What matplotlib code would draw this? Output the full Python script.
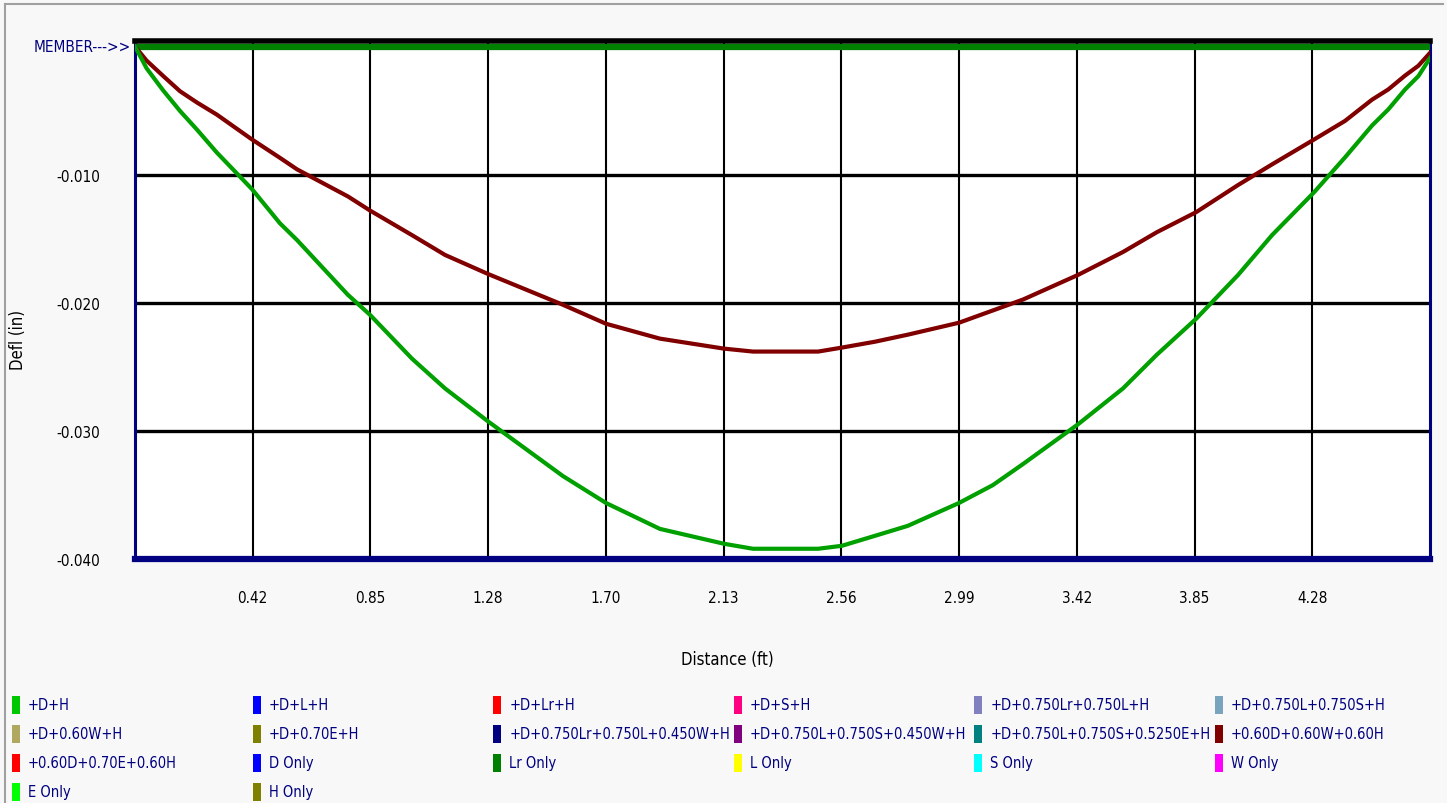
import matplotlib
matplotlib.use("Agg")
import matplotlib.pyplot as plt
from matplotlib.lines import Line2D
from matplotlib.patches import Rectangle
import matplotlib.transforms as mtransforms

plt.rcParams["font.family"] = ["DejaVu Sans"]
plt.rcParams["font.stretch"] = "condensed"

# beam length (ft) and axis ticks
beam_length = 4.69
x_tick_labels = ["0.42", "0.85", "1.28", "1.70", "2.13", "2.56", "2.99", "3.42", "3.85", "4.28"]
y_ticks = [-0.040, -0.030, -0.020, -0.010]
y_tick_labels = ["-0.040", "-0.030", "-0.020", "-0.010"]

# deflection curves
distance = [0.000, 0.042, 0.101, 0.163, 0.225, 0.296, 0.424, 0.525, 0.587, 0.771,
            0.851, 1.003, 1.123, 1.278, 1.550, 1.706, 1.901, 2.133, 2.238, 2.329,
            2.474, 2.560, 2.680, 2.799, 2.984, 3.107, 3.216, 3.415, 3.578, 3.701,
            3.843, 3.995, 4.118, 4.270, 4.382, 4.480, 4.539, 4.599, 4.648, 4.690]
defl_d_h = [0.0, -0.00170, -0.00340, -0.00503, -0.00650, -0.00827, -0.01114, -0.01380,
            -0.01511, -0.01938, -0.02094, -0.02436, -0.02669, -0.02925, -0.03353, -0.03563,
            -0.03765, -0.03881, -0.03920, -0.03920, -0.03920, -0.03897, -0.03819, -0.03741,
            -0.03563, -0.03423, -0.03259, -0.02949, -0.02669, -0.02405, -0.02125, -0.01783,
            -0.01472, -0.01138, -0.00866, -0.00617, -0.00491, -0.00337, -0.00231, -0.00090]
defl_06d_06w_06h = [0.0, -0.00110, -0.00228, -0.00349, -0.00438, -0.00531, -0.00726, -0.00869,
                    -0.00959, -0.01170, -0.01280, -0.01472, -0.01627, -0.01775, -0.02016, -0.02164,
                    -0.02280, -0.02358, -0.02381, -0.02381, -0.02381, -0.02350, -0.02304, -0.02249,
                    -0.02156, -0.02060, -0.01975, -0.01783, -0.01604, -0.01449, -0.01293, -0.01081,
                    -0.00920, -0.00726, -0.00581, -0.00415, -0.00335, -0.00228, -0.00150, -0.00050]
defl_zero = [0.0] * len(distance)

legend_labels = [
    "+D+H", "+D+L+H", "+D+Lr+H", "+D+S+H", "+D+0.750Lr+0.750L+H", "+D+0.750L+0.750S+H",
    "+D+0.60W+H", "+D+0.70E+H", "+D+0.750Lr+0.750L+0.450W+H", "+D+0.750L+0.750S+0.450W+H",
    "+D+0.750L+0.750S+0.5250E+H", "+0.60D+0.60W+0.60H",
    "+0.60D+0.70E+0.60H", "D Only", "Lr Only", "L Only", "S Only", "W Only",
    "E Only", "H Only",
]
legend_colors = [
    "#00C800", "#0000FF", "#FF0000", "#FF0080", "#8080C0", "#78A4BE",
    "#B0A860", "#808000", "#000080", "#800080", "#008080", "#800000",
    "#FF0000", "#0000FF", "#008000", "#FFFF00", "#00FFFF", "#FF00FF",
    "#00FF00", "#808000",
]

W, H = 1447, 804
fig = plt.figure(figsize=(W / 100, H / 100), dpi=100, facecolor="#F8F8F8")
ax = fig.add_axes([135 / W, 1 - 560 / H, 1295 / W, 518 / H])
ax.set_facecolor("white")

ax.plot(distance, defl_zero, color="#008000", lw=4.5, zorder=3, solid_capstyle="butt")
ax.plot(distance, defl_06d_06w_06h, color="#800000", lw=3, zorder=4)
ax.plot(distance, defl_d_h, color="#00A000", lw=3, zorder=5)

step = beam_length / 11
ax.set_xlim(0, beam_length)
ax.set_ylim(-0.040, 0.00043)
ax.set_xticks([step * (i + 1) for i in range(len(x_tick_labels))])
ax.set_xticklabels(x_tick_labels)
ax.set_yticks(y_ticks)
ax.set_yticklabels(y_tick_labels)
ax.tick_params(length=0, labelsize=11, colors="black")
ax.tick_params(axis="x", pad=22)
ax.tick_params(axis="y", pad=25)
ax.xaxis.grid(True, color="black", lw=1.5)
ax.yaxis.grid(True, color="black", lw=2.4)
ax.set_axisbelow(True)

ax.spines["left"].set_color("#000080")
ax.spines["left"].set_linewidth(2.2)
ax.spines["right"].set_color("#000080")
ax.spines["right"].set_linewidth(2.2)
ax.spines["bottom"].set_color("#000080")
ax.spines["bottom"].set_linewidth(4.5)
ax.spines["top"].set_color("black")
ax.spines["top"].set_linewidth(4)

trans = mtransforms.blended_transform_factory(ax.transAxes, ax.transData)
ax.text(-0.003, 0.0, "MEMBER--->>", transform=trans, ha="right", va="center",
        color="#000080", fontsize=11)

fig.text(727 / W, 1 - 660 / H, "Distance (ft)", ha="center", va="center", fontsize=12)
fig.text(18 / W, 1 - 340 / H, "Defl (in)", ha="center", va="center", rotation=90, fontsize=12)

# legend grid, 6 columns
for i, (lab, col) in enumerate(zip(legend_labels, legend_colors)):
    r, c = divmod(i, 6)
    x0 = 12 + 240.6 * c
    yc = 706 + 29 * r
    fig.add_artist(Rectangle((x0 / W, 1 - (yc + 9) / H), 8 / W, 18 / H,
                             transform=fig.transFigure, facecolor=col, edgecolor="none"))
    fig.text((x0 + 16) / W, 1 - yc / H, lab, ha="left", va="center",
             color="#000080", fontsize=10.5)

# panel border
fig.add_artist(Line2D([5 / W, 1443 / W], [1 - 5 / H, 1 - 5 / H], color="#A0A0A0", lw=1.5))
fig.add_artist(Line2D([5 / W, 5 / W], [1 - 5 / H, 0], color="#A0A0A0", lw=1.5))

fig.savefig("out.png", dpi=100, facecolor=fig.get_facecolor())
